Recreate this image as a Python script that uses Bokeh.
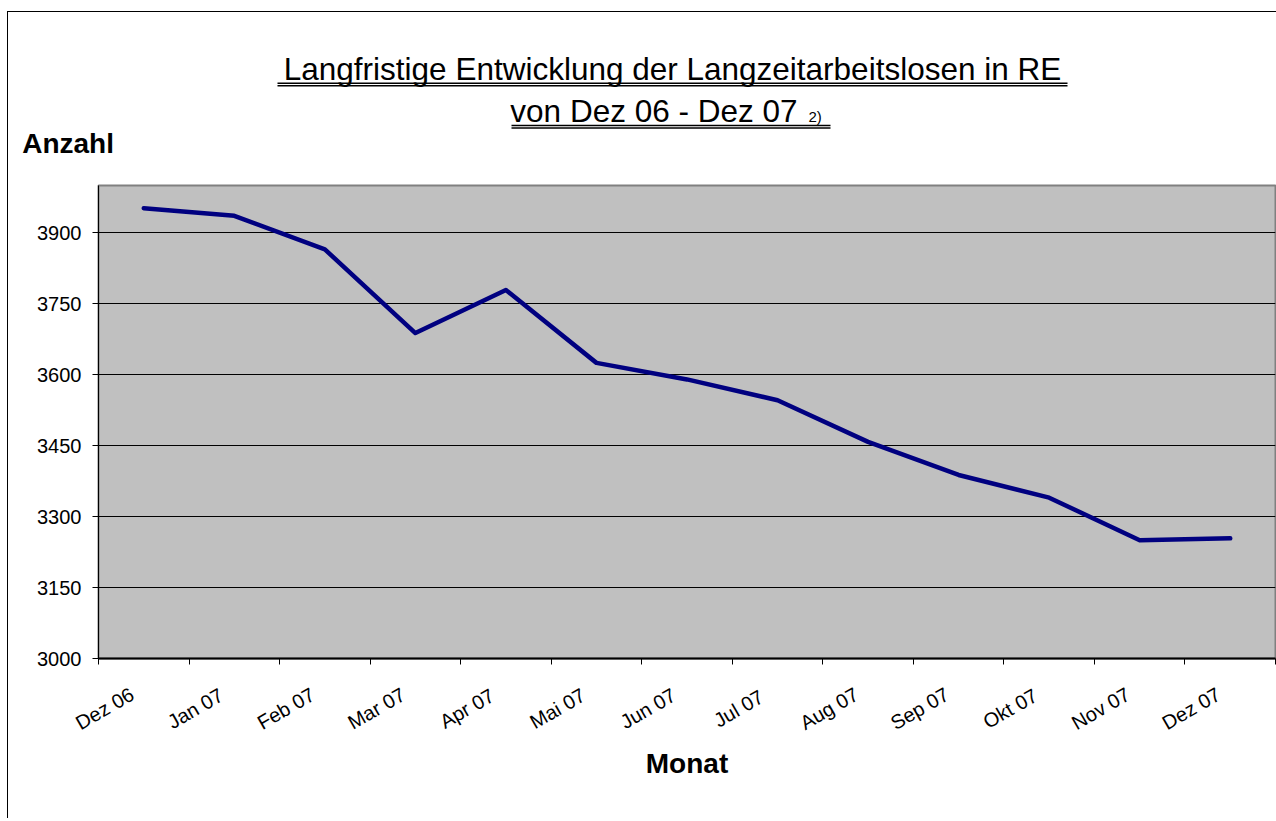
import math
from bokeh.plotting import figure
from bokeh.layouts import column
from bokeh.models import Range1d, FixedTicker
from bokeh.core.properties import value
from bokeh.embed import file_html
from bokeh.resources import INLINE

# ---------------- data ----------------
months = ["Dez 06", "Jan 07", "Feb 07", "Mar 07", "Apr 07", "Mai 07", "Jun 07",
          "Jul 07", "Aug 07", "Sep 07", "Okt 07", "Nov 07", "Dez 07"]
values = [3952, 3936, 3865, 3688, 3779, 3625, 3590, 3546, 3458, 3388, 3340, 3250, 3254]
y_ticks = [3000, 3150, 3300, 3450, 3600, 3750, 3900]
y_min, y_max = 3000, 4000
title_line1 = "Langfristige Entwicklung der Langzeitarbeitslosen in RE"
title_line2 = "von Dez 06 - Dez 07"
title_note = "2)"
y_title = "Anzahl"
x_title = "Monat"

FONT = "Liberation Sans"

# ---------------- layout (page pixels) ----------------
OX, OY = 8, 12            # origin of the chart canvases inside the bordered box
W = 1268
HH = 168                  # heading strip
HM = 488                  # main plot
HB = 150                  # month labels strip
BL, BR, BT, BB = 90, 1, 5, 10
frame_w = W - BL - BR
n = len(months)
px_per_x = frame_w / n

# ---------------- heading strip ----------------
head = figure(width=W, height=HH, x_range=Range1d(0, W), y_range=Range1d(0, HH),
              min_border=0, x_axis_type=None, y_axis_type=None, outline_line_color=None,
              toolbar_location=None, output_backend="svg", background_fill_color="white",
              border_fill_color="white", frame_align=False)
head.grid.visible = False


def hx(px):
    return px - OX


def hy(py):
    return HH - (py - OY)


head.text(x=[hx(672)], y=[hy(68.3)], text=[title_line1], text_align="center",
          text_baseline="middle", text_font=value(FONT), text_font_size="31.5px",
          text_color="black")
head.text(x=[hx(797)], y=[hy(110.7)], text=[title_line2], text_align="right",
          text_baseline="middle", text_font=value(FONT), text_font_size="31.5px",
          text_color="black")
head.text(x=[hx(808)], y=[hy(116.4)], text=[title_note], text_align="left",
          text_baseline="middle", text_font=value(FONT), text_font_size="15px",
          text_color="black")
head.text(x=[hx(21.7)], y=[hy(143.2)], text=[y_title], text_align="left",
          text_baseline="middle", text_font=value(FONT), text_font_size="28px",
          text_font_style="bold", text_color="black")
ul = [(277, 1067, 82.7), (277, 1067, 85.3), (511, 830, 125.0), (511, 830, 127.5)]
head.segment(x0=[hx(a) for a, b, c in ul], y0=[hy(c) for a, b, c in ul],
             x1=[hx(b) for a, b, c in ul], y1=[hy(c) for a, b, c in ul],
             line_color="black", line_width=1.4)

# ---------------- main plot ----------------
xr = Range1d(0, n)
p = figure(width=W, height=HM, output_backend="svg", toolbar_location=None,
           x_range=xr, y_range=Range1d(y_min, y_max),
           min_border_left=BL, min_border_right=BR, min_border_top=BT, min_border_bottom=BB,
           background_fill_color="#C0C0C0", border_fill_color="white",
           outline_line_color="#808080", outline_line_width=2, frame_align=False)

xs = [i + 0.5 for i in range(n)]
p.line(xs, values, line_color="#000080", line_width=4.5, line_join="round", line_cap="round")

p.xaxis.ticker = FixedTicker(ticks=list(range(n + 1)))
p.xaxis.major_label_overrides = {i: "" for i in range(n + 1)}
p.xaxis.major_label_text_font_size = "1px"
p.xaxis.major_label_standoff = 0
p.xaxis.major_tick_out = 6
p.xaxis.major_tick_in = 0
p.xaxis.minor_tick_line_color = None
p.xaxis.axis_line_width = 2
p.xaxis.axis_line_color = "black"
p.xaxis.major_tick_line_color = "black"
p.xgrid.visible = False

p.yaxis.ticker = FixedTicker(ticks=y_ticks)
p.yaxis.major_label_text_font = FONT
p.yaxis.major_label_text_font_size = "20px"
p.yaxis.major_label_text_color = "black"
p.yaxis.major_label_standoff = 11
p.yaxis.major_tick_out = 6
p.yaxis.major_tick_in = 0
p.yaxis.minor_tick_line_color = None
p.yaxis.axis_line_color = "black"
p.yaxis.major_tick_line_color = "black"
p.ygrid.ticker = FixedTicker(ticks=y_ticks)
p.ygrid.grid_line_color = "black"
p.ygrid.grid_line_width = 1

# ---------------- month labels strip ----------------
bot_y0 = OY + HH + HM     # page y of the strip top
bot = figure(width=W, height=HB,
             x_range=Range1d(-BL / px_per_x, n + BR / px_per_x), y_range=Range1d(0, HB),
             min_border=0, x_axis_type=None, y_axis_type=None, outline_line_color=None,
             toolbar_location=None, output_backend="svg", background_fill_color="white",
             border_fill_color="white", frame_align=False)
bot.grid.visible = False


def by(py):
    return HB - (py - bot_y0)


bot.text(x=xs, y=[by(708)] * n, text=months, angle=math.radians(30), x_offset=-39,
         text_align="center", text_baseline="middle", text_font=value(FONT),
         text_font_size="20px", text_color="black")
bot.text(x=[n / 2], y=[by(763)], text=[x_title], text_align="center", text_baseline="middle",
         text_font=value(FONT), text_font_size="28px", text_font_style="bold",
         text_color="black")

layout = column(head, p, bot, spacing=0,
                styles={"margin-left": "7px", "margin-top": "11px",
                        "border-left": "1px solid black", "border-top": "1px solid black"})

open("out.html", "w").write(file_html(layout, INLINE))
